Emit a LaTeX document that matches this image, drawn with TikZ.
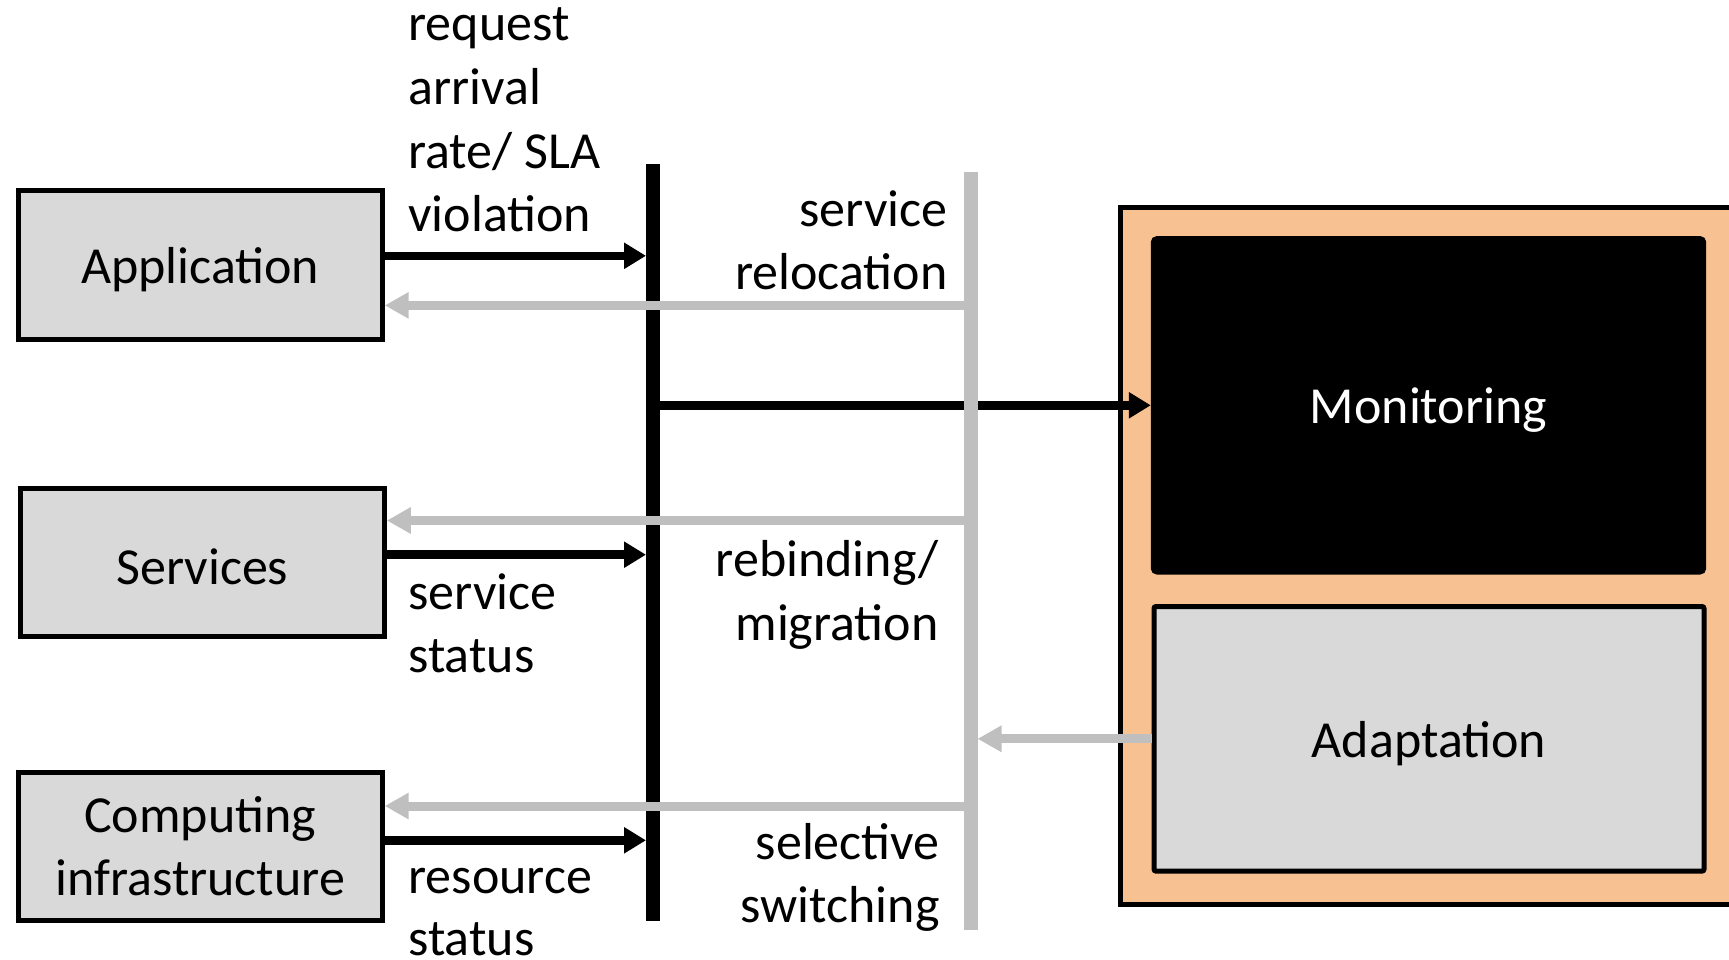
\documentclass[tikz,border=0pt]{standalone}
\usepackage{fontspec}
\setmainfont{Carlito}
\usetikzlibrary{arrows.meta,calc}
\definecolor{boxgrey}{HTML}{D9D9D9}
\definecolor{linegrey}{HTML}{BFBFBF}
\definecolor{peach}{HTML}{F8C191}
% lower a label inside its box without changing the box size
\newcommand\lowered[1]{\raisebox{-2.4pt}[\height][\depth]{#1}}
\begin{document}
\begin{tikzpicture}[x=0.5pt,y=-0.5pt,
  txt/.style={font=\fontsize{26}{31.8}\selectfont, inner sep=0},
  layerbox/.style={draw=black, line width=2.5pt, fill=boxgrey, inner sep=0,
    minimum width=182pt, minimum height=74.5pt, align=center,
    font=\fontsize{26}{31.8}\selectfont},
  fwd/.style={line width=4.3pt, -{Triangle[length=11pt,width=12.5pt]}},
  back/.style={linegrey, line width=4.5pt, -{Triangle[length=12pt,width=12.5pt]}},
  busline/.style={line width=7pt}]
\path[clip,use as bounding box] (0,0) rectangle (1729,959);

% controller frame with its two components
\node[draw=black, line width=2.5pt, fill=peach, minimum width=319.5pt,
  minimum height=348.5pt, inner sep=0] (ctl) at (1440,555.5) {};
\node[draw=black, line width=2.2pt, fill=black, rounded corners=2pt,
  minimum width=275.5pt, minimum height=167pt, inner sep=0, text=white,
  font=\fontsize{26}{31.8}\selectfont] (mon) at (1428.5,405.3) {\lowered{Monitoring}};
\node[draw=black, line width=2.5pt, fill=boxgrey, rounded corners=1pt,
  minimum width=275pt, minimum height=132.3pt, inner sep=0,
  font=\fontsize{26}{31.8}\selectfont] (adapt) at (1429,738.8) {\lowered{Adaptation}};

% managed layers
\node[layerbox] (app) at (200.2,265.2) {\lowered{Application}};
\node[layerbox, minimum height=74pt] (svc) at (202.3,562.2) {\lowered{Services}};
\node[layerbox, minimum height=74pt] (infra) at (200.2,846) {Computing\\infrastructure};

% buses
\coordinate (bT) at (653,164);
\coordinate (bB) at (653,921);
\coordinate (gT) at (970.5,172);
\coordinate (gB) at (970.5,930);

% monitoring bus and events (black)
\draw[busline] (bT) -- (bB);
\draw[fwd, shorten >=3.5pt] ([yshift=4.7pt]app.east) -- ([yshift=4.7pt]app.east -| bT);
\draw[fwd, shorten >=3.5pt] ([yshift=3.75pt]svc.east) -- ([yshift=3.75pt]svc.east -| bT);
\draw[fwd, shorten >=3.5pt] ([yshift=2.85pt]infra.east) -- ([yshift=2.85pt]infra.east -| bT);
\draw[fwd] (mon.west -| bT) -- (mon.west);

% adaptation bus and actions (grey)
\draw[busline, linegrey] (gT) -- (gB);
\draw[back] ([yshift=-20.1pt]app.east -| gT) -- ([yshift=-20.1pt]app.east);
\draw[back] ([yshift=20.85pt]svc.east -| gT) -- ([yshift=20.85pt]svc.east);
\draw[back] ([yshift=20pt]infra.east -| gT) -- ([yshift=20pt]infra.east);
\draw[back, shorten >=3.5pt] (adapt.west) -- (adapt.west -| gT);

% labels
\node[txt, anchor=base west] (l1) at (408,40.8) {request};
\node[txt, anchor=base west] (l2) at (408,104.4) {arrival};
\node[txt, anchor=base west] (l3) at (408,168) {rate/ SLA};
\node[txt, anchor=base west] (l4) at (408,231.6) {violation};

\node[txt, anchor=base east] (r1) at (948,226.5) {service};
\node[txt, anchor=base east] (r2) at (948,289.5) {relocation};

\node[txt, anchor=base east] (m1) at (939,576.5) {rebinding/};
\node[txt, anchor=base east] (m2) at (939,640.5) {migration};

\node[txt, anchor=base west] (s1) at (408,609.5) {service};
\node[txt, anchor=base west] (s2) at (408,672.5) {status};

\node[txt, anchor=base east] (w1) at (940,859.5) {selective};
\node[txt, anchor=base east] (w2) at (940,922.5) {switching};

\node[txt, anchor=base west] (q1) at (408,893) {resource};
\node[txt, anchor=base west] (q2) at (408,955) {status};
\end{tikzpicture}
\end{document}
